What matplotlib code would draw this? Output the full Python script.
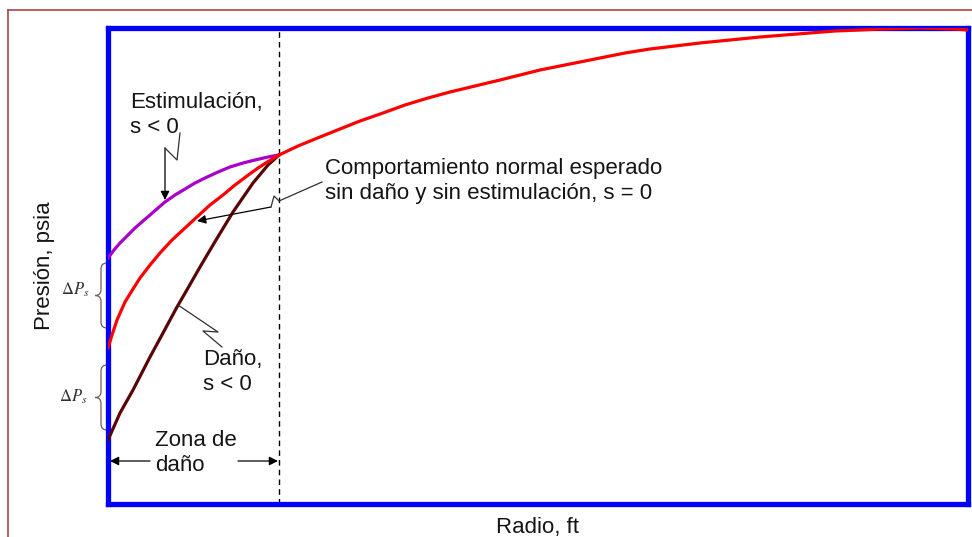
# =========================================================
# 1. IMPORTS
# =========================================================
import matplotlib
matplotlib.use("Agg")
import matplotlib.pyplot as plt
from matplotlib.path import Path
from matplotlib.patches import PathPatch
from matplotlib.lines import Line2D

plt.rcParams["font.family"] = ["Liberation Sans", "DejaVu Sans"]
plt.rcParams["mathtext.fontset"] = "stix"

# =========================================================
# 2. DATA (radio / presion, arbitrary units)
# =========================================================
# comportamiento normal, s = 0
radio_normal = [0, 4, 9, 17, 25, 32, 42, 52, 64, 77, 90, 102, 115, 127, 139,
                150, 161, 171, 190, 212, 232, 252, 275, 297, 320, 342, 367,
                392, 412, 432, 462, 492, 517, 542, 567, 592, 622, 652, 677,
                702, 727, 752, 772, 792, 812, 832, 847, 860]
presion_normal = [156, 169, 184, 202, 215, 226, 239, 251, 264, 276, 288, 299,
                  309, 319, 328, 336, 343, 349, 358, 367, 375, 383, 391, 399,
                  406, 412, 418, 424, 429, 434, 440, 446, 451, 455, 458, 461,
                  464, 467, 469, 471, 473, 474, 475, 475.5, 476, 475.5, 475, 474]

# estimulacion
radio_estim = [0, 6, 12, 20, 27, 35, 42, 50, 57, 67, 77, 87, 97, 110, 122,
               135, 147, 160, 171]
presion_estim = [246, 254, 261, 269, 276, 283, 289, 296, 302, 309, 315, 321,
                 326, 332, 337, 341, 344, 347, 349]

# dano
radio_dano = [0, 12, 25, 42, 55, 69, 80, 92, 108, 125, 145, 160, 171]
presion_dano = [64, 91, 114, 147, 171, 197, 216, 237, 264, 292, 321, 339, 349]

radio_zona = 171          # limite de la zona de dano
RADIO_MAX = 860
PRESION_MAX = 476

# =========================================================
# 3. FIGURE
# =========================================================
fig = plt.figure(figsize=(9.72, 5.37), dpi=100)
ax = fig.add_axes([108 / 972, 33 / 537, 860 / 972, 476 / 537])
ax.set_xlim(0, RADIO_MAX)
ax.set_ylim(0, PRESION_MAX)
ax.set_xticks([])
ax.set_yticks([])
for sp in ax.spines.values():
    sp.set_color("#0000ff")
    sp.set_linewidth(3.8)

# outer frame (cut by the image on right / bottom)
frame_col = "#a84545"
fig.add_artist(Line2D([8 / 972, 8 / 972], [-0.1, 1 - 10 / 537],
                      transform=fig.transFigure, color=frame_col, lw=1.2))
fig.add_artist(Line2D([8 / 972, 1.1], [1 - 10 / 537, 1 - 10 / 537],
                      transform=fig.transFigure, color=frame_col, lw=1.2))

# =========================================================
# 4. CURVES
# =========================================================
ax.axvline(radio_zona, color="black", lw=1.0, ls=(0, (4, 3)), zorder=1)
ax.plot(radio_estim, presion_estim, color="#a800c8", lw=2.3, zorder=3,
        solid_joinstyle="round")
ax.plot(radio_dano, presion_dano, color="#5a0505", lw=2.3, zorder=3,
        solid_joinstyle="round")
ax.plot(radio_normal, presion_normal, color="#ff0000", lw=2.3, zorder=4,
        solid_capstyle="round", solid_joinstyle="round")

# =========================================================
# 5. LABELS
# =========================================================
txt = dict(fontsize=16, color="#151515", linespacing=1.3)
ax.set_xlabel("Radio, ft", labelpad=9, **txt)
ax.set_ylabel("Presión, psia", labelpad=38, **txt)

ax.text(22, 389, "Estimulación,\ns < 0", va="center", ha="left", **txt)
ax.text(217, 323, "Comportamiento normal esperado\nsin daño y sin estimulación, s = 0",
        va="center", ha="left", **txt)
ax.text(95, 132, "Daño,\ns < 0", va="center", ha="left", **txt)
ax.text(47, 51, "Zona de\ndaño", va="center", ha="left", **txt)

# =========================================================
# 6. ZIGZAG LEADERS + ARROWS
# =========================================================
lead = dict(color="#303030", lw=0.9, clip_on=False, zorder=5)
head = dict(arrowstyle="-|>", color="black", lw=0.9, mutation_scale=13,
            shrinkA=0, shrinkB=0)

# estimulacion
ax.plot([72, 69, 57], [371, 344, 356], **lead)
ax.annotate("", xy=(57, 304), xytext=(57, 356), arrowprops=head)

# comportamiento normal
ax.plot([214, 171, 166, 163], [322, 303, 308, 297], **lead)
ax.annotate("", xy=(89, 283), xytext=(163, 297), arrowprops=head)

# dano
ax.plot([70, 110, 95, 114], [199, 172, 173, 157], **lead)

# zona de dano
ax.annotate("", xy=(2, 43), xytext=(42, 43), arrowprops=head)
ax.annotate("", xy=(radio_zona - 1, 43), xytext=(130, 43), arrowprops=head)

# =========================================================
# 7. BRACES + DELTA P LABELS
# =========================================================
def brace(y0, y1, x_end=-1, x_mid=-7, x_tip=-13, d=6):
    ym = (y0 + y1) / 2
    verts = [(x_end, y1), (x_mid, y1), (x_mid, y1 - d),
             (x_mid, ym + d), (x_mid, ym), (x_tip, ym),
             (x_mid, ym), (x_mid, ym - d),
             (x_mid, y0 + d), (x_mid, y0), (x_end, y0)]
    codes = [Path.MOVETO, Path.CURVE3, Path.CURVE3,
             Path.LINETO, Path.CURVE3, Path.CURVE3,
             Path.CURVE3, Path.CURVE3,
             Path.LINETO, Path.CURVE3, Path.CURVE3]
    ax.add_patch(PathPatch(Path(verts, codes), fill=False, edgecolor="#6e6152",
                           lw=0.9, clip_on=False))

brace(presion_normal[0] + 20, presion_estim[0] - 5)
brace(presion_dano[0] + 10, presion_normal[0] - 17)

ax.text(-33, 214, r"$\Delta P_s$", fontsize=12, ha="center", va="center",
        color="#303030", clip_on=False)
ax.text(-35, 107, r"$\Delta P_s$", fontsize=12, ha="center", va="center",
        color="#303030", clip_on=False)

# =========================================================
# 8. SAVE
# =========================================================
fig.savefig("out.png", dpi=100)
plt.close(fig)
